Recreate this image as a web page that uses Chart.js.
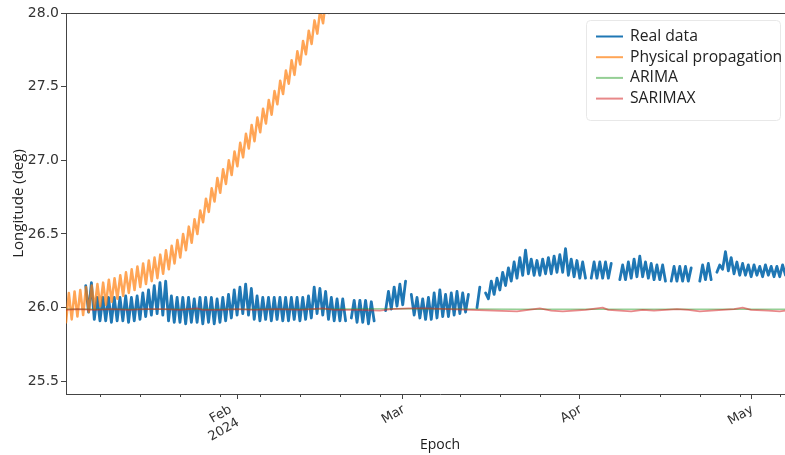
<!DOCTYPE html>
<html>
<head>
<meta charset="utf-8">
<script src="https://cdn.jsdelivr.net/npm/chart.js@4/dist/chart.umd.min.js"></script>
<style>
  html, body { margin: 0; padding: 0; background: #fff; overflow: hidden; }
  #wrap { width: 815px; height: 455px; }
</style>
</head>
<body>
<div id="wrap"><canvas id="myChart" width="815" height="455"></canvas></div>
<script>
// x values are days counted from 1 Jan 2024 (Jan 1 = 0)

// Real data: one trough (at day d) and one crest (at day d + 0.5) per day, null = no data
const realFirstDay = 4
const realLow = [
  null, 25.97, 25.92, 25.91, 25.91, 25.90, 25.91, 25.91, 25.90, 25.91,
  25.92, 25.94, 25.95, 25.96, 25.95, 25.91, 25.90, 25.90, 25.89, 25.90,
  25.90, 25.89, 25.90, 25.89, 25.90, 25.91, 25.93, 25.95, 25.96, 25.95,
  25.92, 25.91, 25.92, 25.91, 25.92, 25.91, 25.91, 25.92, 25.91, 25.92,
  25.93, 25.96, 25.95, 25.92, 25.91, 25.91, 25.91, 25.93, 25.90, 25.90,
  25.89, 25.91, null, 25.98, 25.99, 26.01, 26.02, null, 25.95, 25.93,
  25.92, 25.92, 25.93, 25.94, 25.94, 25.95, 25.96, 25.97, null, 26.00,
  null, 26.06, 26.09, 26.12, 26.15, 26.18, 26.20, 26.22, 26.23, 26.22,
  26.22, 26.23, 26.23, 26.24, 26.24, 26.22, 26.21, 26.20, 26.20, 26.20,
  26.20, 26.20, 26.20, null, 26.19, 26.19, 26.20, 26.21, 26.21, 26.20,
  26.19, 26.19, 26.18, 26.18, 26.18, 26.18, 26.18, null, 26.18, 26.19,
  26.19, 26.24, 26.26, 26.25, 26.23, 26.22, 26.22, 26.21, 26.22, 26.21,
  26.22, 26.21, 26.21, 26.22, 26.21, 26.21, 26.22, 26.21
]
const realHigh = [
  26.15, 26.17, 26.07, 26.07, 26.07, 26.07, 26.07, 26.08, 26.07, 26.08,
  26.10, 26.12, 26.15, 26.17, 26.18, 26.08, 26.07, 26.07, 26.07, 26.06,
  26.07, 26.07, 26.07, 26.06, 26.07, 26.09, 26.12, 26.14, 26.16, 26.13,
  26.08, 26.07, 26.07, 26.07, 26.07, 26.07, 26.07, 26.07, 26.07, 26.08,
  26.14, 26.13, 26.11, 26.07, 26.06, 26.06, null, 26.05, 26.05, 26.05,
  26.04, null, null, 26.11, 26.14, 26.16, 26.18, 26.09, 26.07, 26.06,
  26.07, 26.10, 26.12, 26.09, 26.10, 26.11, 26.10, 26.09, null, 26.14,
  26.10, 26.18, 26.20, 26.24, 26.27, 26.31, 26.34, 26.39, 26.33, 26.32,
  26.33, 26.34, 26.35, 26.36, 26.40, 26.33, 26.32, 26.31, null, 26.31,
  26.31, 26.31, 26.30, null, 26.29, 26.31, 26.33, 26.35, 26.31, 26.30,
  26.29, 26.29, null, 26.28, 26.28, 26.28, 26.27, null, 26.29, 26.30,
  null, 26.29, 26.38, 26.34, 26.31, 26.30, 26.29, 26.29, 26.28, 26.29,
  26.28, 26.28, 26.29, 26.28, 26.28, 26.29, 26.28, 26.28
]

// Physical propagation: trough (day d + 0.05) and crest (day d + 0.55) per day
const propFirstDay = 1
const propLow = [
  25.90, 25.92, 25.94, 25.95, 25.97, 25.99, 26.01, 26.02, 26.04, 26.06,
  26.08, 26.10, 26.12, 26.14, 26.16, 26.18, 26.20, 26.23, 26.26, 26.30,
  26.34, 26.39, 26.44, 26.50, 26.58, 26.65, 26.72, 26.78, 26.84, 26.90,
  26.96, 27.02, 27.08, 27.13, 27.19, 27.25, 27.31, 27.38, 27.45, 27.52,
  27.58, 27.65, 27.72, 27.79, 27.86, 27.93, 28.00, 28.07
]
const propHigh = [
  26.10, 26.11, 26.12, 26.14, 26.15, 26.16, 26.17, 26.19, 26.20, 26.22,
  26.24, 26.26, 26.28, 26.30, 26.32, 26.34, 26.36, 26.39, 26.42, 26.46,
  26.50, 26.55, 26.60, 26.66, 26.74, 26.81, 26.88, 26.94, 27.00, 27.06,
  27.12, 27.18, 27.24, 27.29, 27.35, 27.41, 27.47, 27.54, 27.61, 27.68,
  27.74, 27.81, 27.88, 27.95, 28.02, 28.09, 28.16, 28.23
]

// ARIMA forecast
const arimaDays = [1, 20, 40, 60, 80, 100, 120, 132]
const arimaVals = [25.99, 25.99, 25.99, 25.992, 25.99, 25.99, 25.99, 25.99]

// SARIMAX forecast
const sarimaxDays = [1, 3, 6, 9, 12, 15, 18, 21, 24, 25, 28, 31, 34, 38, 42, 46, 48, 52, 56, 58,
  61, 64, 68, 72, 76, 80, 82, 84, 86, 88, 90, 92, 94, 95, 96, 98, 100, 102, 104, 106,
  108, 110, 112, 114, 116, 118, 119.5, 121, 124, 126, 128, 130, 132]
const sarimaxVals = [25.985, 25.99, 25.985, 25.99, 25.985, 25.99, 25.99, 25.985, 25.995, 25.985,
  25.985, 25.99, 25.985, 25.99, 25.985, 25.995, 25.985, 25.985, 25.98, 25.99,
  25.995, 25.995, 25.99, 25.985, 25.98, 25.975, 25.985, 25.995, 25.98, 25.975,
  25.98, 25.985, 25.995, 26.0, 25.985, 25.98, 25.975, 25.985, 25.98, 25.985,
  25.99, 25.985, 25.975, 25.98, 25.985, 25.99, 26.0, 25.985, 25.98, 25.975,
  25.985, 25.98, 25.985]

// axis ticks
const monthTicks = [31, 60, 91, 121]
const monthLabels = [['Feb', '2024'], 'Mar', 'Apr', 'May']
const weekTicks = [7, 14, 21, 28, 35, 42, 49, 56, 63, 70, 77, 84, 98, 105, 112, 119, 126]
const yTicks = [25.5, 26.0, 26.5, 27.0, 27.5, 28.0]

function zigzag(first, lows, highs, lowOff, highOff) {
  const pts = []
  lows.forEach((v, i) => {
    pts.push({x: first + i + lowOff, y: v})
    pts.push({x: first + i + highOff, y: highs[i] === undefined ? null : highs[i]})
  })
  return pts
}

const realPts = zigzag(realFirstDay, realLow, realHigh, 0, 0.5)
const propPts = zigzag(propFirstDay, propLow, propHigh, 0.05, 0.55)
const arimaPts = arimaDays.map((d, i) => ({x: d, y: arimaVals[i]}))
const sarimaxPts = sarimaxDays.map((d, i) => ({x: d, y: sarimaxVals[i]}))

const axisColor = '#444'

const framePlugin = {
  id: 'frame',
  afterDraw(chart) {
    const {ctx, chartArea} = chart
    const xs = chart.scales.x
    ctx.save()
    ctx.strokeStyle = axisColor
    ctx.lineWidth = 1
    ctx.beginPath()
    ctx.moveTo(chartArea.left, Math.round(chartArea.top) + 0.5)
    ctx.lineTo(chartArea.right, Math.round(chartArea.top) + 0.5)
    ctx.stroke()
    // minor (weekly) ticks
    weekTicks.forEach(d => {
      const px = Math.round(xs.getPixelForValue(d)) + 0.5
      ctx.beginPath()
      ctx.moveTo(px, chartArea.bottom)
      ctx.lineTo(px, chartArea.bottom + 3)
      ctx.stroke()
    })
    // month labels, rotated and right aligned like matplotlib
    ctx.font = '13px "DejaVu Sans"'
    ctx.fillStyle = '#333'
    ctx.textAlign = 'right'
    ctx.textBaseline = 'top'
    monthTicks.forEach((d, i) => {
      const lines = [].concat(monthLabels[i])
      const lh = 15
      const tx = xs.getPixelForValue(d) - 2 - 0.5 * (lines.length - 1) * lh
      ctx.save()
      ctx.translate(tx, chartArea.bottom + 9)
      ctx.rotate(-Math.PI / 6)
      lines.forEach((t, k) => ctx.fillText(t, 0, k * lh))
      ctx.restore()
    })
    // legend
    ctx.textAlign = 'left'
    ctx.fillStyle = 'rgba(255,255,255,0.85)'
    ctx.strokeStyle = '#e8e8e8'
    ctx.beginPath()
    ctx.roundRect(586.5, 20.5, 194, 100, 4)
    ctx.fill()
    ctx.stroke()
    ctx.font = '15.7px "Open Sans"'
    ctx.textBaseline = 'middle'
    chart.data.datasets.forEach((ds, i) => {
      const y = 36.5 + i * 20.7
      ctx.strokeStyle = ds.borderColor
      ctx.lineWidth = 2
      ctx.beginPath()
      ctx.moveTo(596, y)
      ctx.lineTo(623, y)
      ctx.stroke()
      ctx.fillStyle = '#222'
      ctx.fillText(ds.label, 630, y)
    })
    ctx.restore()
  }
}

new Chart('myChart', {
  type: 'line',
  data: {
    datasets: [{
      label: 'Real data',
      data: realPts,
      borderColor: '#1f77b4',
      borderWidth: 2.8,
      order: 4
    }, {
      label: 'Physical propagation',
      data: propPts,
      borderColor: 'rgba(255,127,14,0.7)',
      borderWidth: 2.5,
      order: 3
    }, {
      label: 'ARIMA',
      data: arimaPts,
      borderColor: 'rgba(44,160,44,0.5)',
      borderWidth: 1.5,
      order: 2
    }, {
      label: 'SARIMAX',
      data: sarimaxPts,
      borderColor: 'rgba(214,39,40,0.55)',
      borderWidth: 1.8,
      order: 1
    }]
  },
  options: {
    responsive: false,
    animation: false,
    devicePixelRatio: 1,
    layout: {padding: {top: 13, right: 1, bottom: 0, left: 0}},
    elements: {
      point: {radius: 0},
      line: {tension: 0, borderJoinStyle: 'round', borderCapStyle: 'round'}
    },
    spanGaps: false,
    plugins: {legend: {display: false}, tooltip: {enabled: false}},
    scales: {
      x: {
        type: 'linear',
        min: 1.05,
        max: 132,
        afterBuildTicks: s => { s.ticks = monthTicks.map(v => ({value: v})) },
        afterFit: s => { s.height = 61 },
        ticks: {display: false, autoSkip: false},
        grid: {drawOnChartArea: false, tickLength: 5, color: axisColor},
        border: {color: axisColor, width: 1},
        title: {
          display: true, text: 'Epoch', color: '#1a1a1a',
          font: {family: 'Open Sans', size: 14},
          padding: {top: 0, bottom: 2}
        }
      },
      y: {
        min: 25.414,
        max: 28.0,
        afterBuildTicks: s => { s.ticks = yTicks.map(v => ({value: v})) },
        afterFit: s => { s.width = 66 },
        ticks: {
          padding: 2,
          color: '#333',
          font: {family: 'DejaVu Sans', size: 14},
          callback: v => v.toFixed(1)
        },
        grid: {drawOnChartArea: false, tickLength: 5, color: axisColor},
        border: {color: axisColor, width: 1},
        title: {
          display: true, text: 'Longitude (deg)', color: '#222',
          font: {family: 'Open Sans', size: 15},
          padding: {top: 10, bottom: 0}
        }
      }
    }
  },
  plugins: [framePlugin]
})
</script>
</body>
</html>
